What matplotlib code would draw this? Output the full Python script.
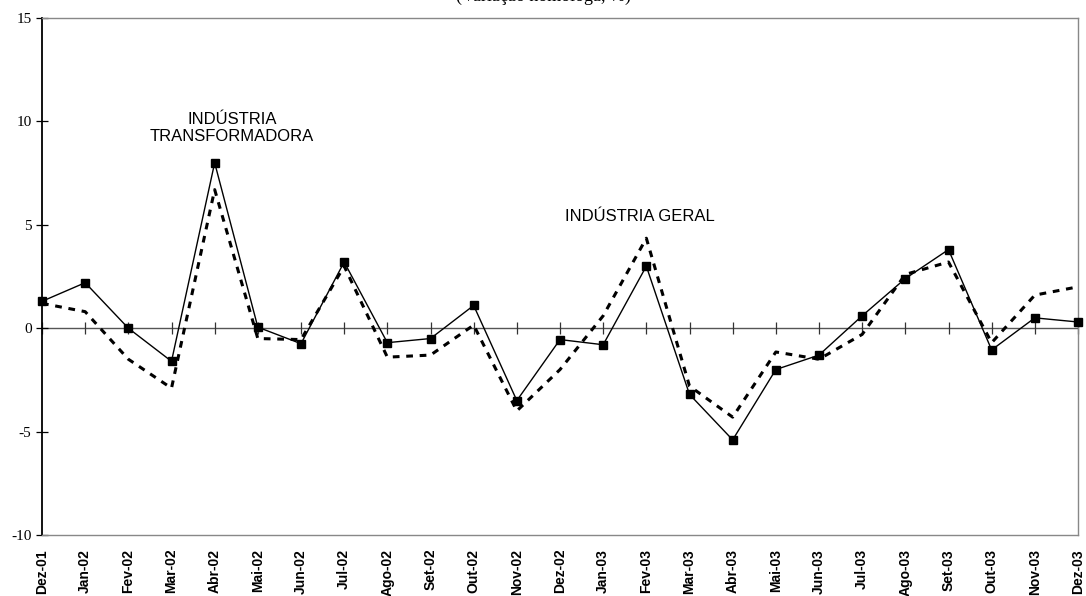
import numpy as np
import matplotlib
matplotlib.use("Agg")
import matplotlib.pyplot as plt

# data (variação homóloga, %)
months = ["Dez-01", "Jan-02", "Fev-02", "Mar-02", "Abr-02", "Mai-02", "Jun-02",
          "Jul-02", "Ago-02", "Set-02", "Out-02", "Nov-02", "Dez-02", "Jan-03",
          "Fev-03", "Mar-03", "Abr-03", "Mai-03", "Jun-03", "Jul-03", "Ago-03",
          "Set-03", "Out-03", "Nov-03", "Dez-03"]
transformadora = [1.3, 2.2, 0.0, -1.6, 8.0, 0.05, -0.75, 3.2, -0.7, -0.5, 1.1, -3.5,
                  -0.55, -0.8, 3.0, -3.2, -5.4, -2.0, -1.3, 0.6, 2.4, 3.8, -1.05,
                  0.5, 0.3]
geral = [1.2, 0.8, -1.5, -2.9, 6.7, -0.5, -0.55, 3.0, -1.4, -1.3, 0.15, -4.0,
         -2.0, 0.6, 4.35, -2.8, -4.3, -1.15, -1.5, -0.3, 2.6, 3.2, -0.7, 1.6, 2.0]
yticks = [-10, -5, 0, 5, 10, 15]

sans = "Liberation Sans"
serif = "Liberation Serif"

fig = plt.figure(figsize=(10.86, 5.96), dpi=100)
ax = fig.add_axes([42 / 1086, 1 - 535 / 596, 1036 / 1086, 517 / 596])

x = np.arange(len(months))

# category axis at zero, with tick marks crossing it
ax.axhline(0, color="#555555", lw=1.0, zorder=1)
ax.plot(x, np.zeros(len(x)), ls="none", marker="|", ms=8, mew=0.9,
        color="#333333", zorder=1, clip_on=False)

ax.plot(x, geral, color="black", lw=2.2, dashes=(2.2, 2.2), zorder=2,
        clip_on=False)
ax.plot(x, transformadora, color="black", lw=1.0, marker="s", ms=6,
        zorder=3, clip_on=False)

ax.set_xlim(0, len(months) - 1)
ax.set_ylim(-10, 15)
ax.set_xticks(x)
ax.set_xticklabels(months, rotation=90, fontfamily=sans, fontweight="bold",
                   fontsize=10)
ax.tick_params(axis="x", length=0, pad=10)
ax.set_yticks(yticks)
ax.set_yticklabels([str(v) for v in yticks], fontfamily=serif, fontsize=11)
ax.tick_params(axis="y", direction="inout", length=9, width=0.9, pad=3)

for side in ["top", "right", "bottom"]:
    ax.spines[side].set_color("#888888")
    ax.spines[side].set_linewidth(1.0)
ax.spines["left"].set_color("black")
ax.spines["left"].set_linewidth(1.3)

ax.text(4.4, 9.7, "INDÚSTRIA\nTRANSFORMADORA", ha="center", va="center",
        fontfamily=sans, fontsize=12, linespacing=1.15)
ax.text(13.85, 5.4, "INDÚSTRIA GERAL", ha="center", va="center",
        fontfamily=sans, fontsize=12)

# title is cut off at the top edge of the picture, as in the original
fig.text(543 / 1086, 1 - 0.5 / 596, "(Variação homóloga, %)", ha="center",
         va="baseline", fontfamily=serif, fontsize=13)

fig.savefig("out.png", dpi=100)
